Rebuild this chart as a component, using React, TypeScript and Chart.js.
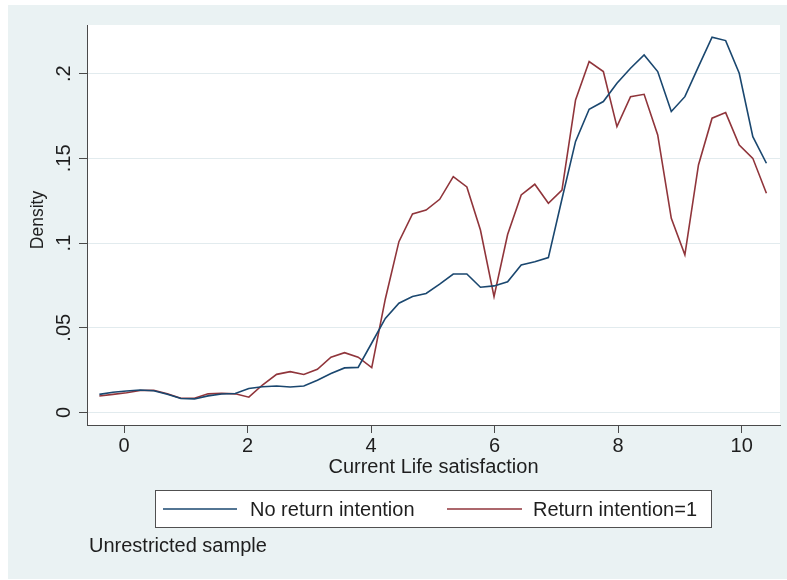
import React, { useEffect, useRef } from 'react';
import { Chart, registerables } from 'chart.js';

Chart.register(...registerables);

// Evaluation points of the density estimate (Current Life satisfaction)
const xPoints = [
  -0.4, -0.18, 0.04, 0.26, 0.48, 0.7, 0.92, 1.14, 1.36, 1.58,
  1.8, 2.02, 2.24, 2.47, 2.69, 2.91, 3.13, 3.35, 3.57, 3.79,
  4.01, 4.23, 4.45, 4.67, 4.89, 5.11, 5.33, 5.55, 5.77, 5.99,
  6.21, 6.43, 6.65, 6.87, 7.09, 7.31, 7.53, 7.76, 7.98, 8.2,
  8.42, 8.64, 8.86, 9.08, 9.3, 9.52, 9.74, 9.96, 10.18, 10.4,
];

// Density: No return intention
const noReturn = [
  0.0107, 0.0119, 0.0127, 0.0133, 0.0128, 0.0108, 0.0082, 0.008, 0.0098, 0.0109,
  0.0112, 0.0141, 0.0152, 0.0156, 0.015, 0.0156, 0.019, 0.023, 0.0263, 0.0266,
  0.041, 0.0555, 0.0645, 0.0684, 0.0702, 0.0758, 0.0817, 0.0817, 0.0739, 0.0747,
  0.0771, 0.0871, 0.089, 0.0914, 0.126, 0.16, 0.179, 0.1835, 0.1943, 0.2032,
  0.211, 0.2012, 0.1776, 0.1864, 0.2041, 0.2215, 0.2195, 0.2002, 0.1628, 0.1471,
];

// Density: Return intention = 1
const returnInt = [
  0.0097, 0.0107, 0.0116, 0.013, 0.0131, 0.011, 0.0084, 0.0084, 0.011, 0.0113,
  0.011, 0.009, 0.0162, 0.0225, 0.0241, 0.0224, 0.0255, 0.0326, 0.0353, 0.0326,
  0.0265, 0.067, 0.1008, 0.1172, 0.1195, 0.1258, 0.1392, 0.1331, 0.1077, 0.0684,
  0.105, 0.1284, 0.1347, 0.1235, 0.1313, 0.1845, 0.2071, 0.2012, 0.1687, 0.1864,
  0.1878, 0.1638, 0.1146, 0.093, 0.1461, 0.1737, 0.177, 0.1579, 0.15, 0.1294,
];

const seriesLabels = ['No return intention', 'Return intention=1'];
const xTickValues = [0, 2, 4, 6, 8, 10];
const yTickValues = [0, 0.05, 0.1, 0.15, 0.2];
const yTickLabels = ['0', '.05', '.1', '.15', '.2'];
const xTitle = 'Current Life satisfaction';
const yTitle = 'Density';
const noteText = 'Unrestricted sample';

const FONT = "'Liberation Sans', Arial, Helvetica, sans-serif";
const BG = '#eaf2f3';
const TEXT = '#1e1e1e';
const AXIS = '#4a4a4a';

const decorPlugin = {
  id: 'decor',
  beforeDraw(chart: any) {
    const { ctx, chartArea, width, height } = chart;
    ctx.save();
    ctx.fillStyle = BG;
    ctx.fillRect(0, 0, width, height);
    ctx.fillStyle = '#ffffff';
    ctx.fillRect(chartArea.left, chartArea.top, chartArea.right - chartArea.left, chartArea.bottom - chartArea.top);
    ctx.restore();
  },
  afterDraw(chart: any) {
    const { ctx } = chart;
    ctx.save();
    // y-axis title
    ctx.save();
    ctx.translate(30.5, 215);
    ctx.rotate(-Math.PI / 2);
    ctx.font = `17.5px ${FONT}`;
    ctx.fillStyle = TEXT;
    ctx.textAlign = 'center';
    ctx.textBaseline = 'middle';
    ctx.fillText(yTitle, 0, 0);
    ctx.restore();
    // legend box
    ctx.fillStyle = '#ffffff';
    ctx.fillRect(147.5, 485.5, 556, 37);
    ctx.strokeStyle = '#505050';
    ctx.lineWidth = 1;
    ctx.strokeRect(147.5, 485.5, 556, 37);
    const items = [
      { x1: 155, x2: 229, tx: 242 },
      { x1: 439, x2: 514, tx: 525 },
    ];
    ctx.font = `20px ${FONT}`;
    ctx.textBaseline = 'alphabetic';
    ctx.textAlign = 'left';
    chart.data.datasets.forEach((ds: any, i: number) => {
      const it = items[i];
      ctx.strokeStyle = ds.borderColor;
      ctx.lineWidth = 1.6;
      ctx.beginPath();
      ctx.moveTo(it.x1, 504);
      ctx.lineTo(it.x2, 504);
      ctx.stroke();
      ctx.fillStyle = TEXT;
      ctx.fillText(ds.label, it.tx, 511);
    });
    // note
    ctx.fillStyle = TEXT;
    ctx.fillText(noteText, 81, 547);
    ctx.restore();
  },
};

export default function App() {
  const ref = useRef<HTMLCanvasElement | null>(null);

  useEffect(() => {
    if (!ref.current) return;
    Chart.defaults.font.family = FONT;
    Chart.defaults.font.size = 20;
    Chart.defaults.color = TEXT;
    const chart = new Chart(ref.current, {
      type: 'line',
      data: {
        datasets: [
          {
            label: seriesLabels[0],
            data: xPoints.map((x, i) => ({ x, y: noReturn[i] })),
            borderColor: '#1a476f',
            borderWidth: 1.6,
            pointRadius: 0,
            tension: 0,
            fill: false,
          },
          {
            label: seriesLabels[1],
            data: xPoints.map((x, i) => ({ x, y: returnInt[i] })),
            borderColor: '#90353b',
            borderWidth: 1.6,
            pointRadius: 0,
            tension: 0,
            fill: false,
          },
        ],
      },
      options: {
        responsive: false,
        animation: false,
        devicePixelRatio: 1,
        layout: { padding: { left: 0, top: 20, right: 7, bottom: 100 } },
        plugins: {
          legend: { display: false },
          tooltip: { enabled: false },
        },
        scales: {
          x: {
            type: 'linear',
            min: -0.6,
            max: 10.62,
            afterBuildTicks: (s: any) => {
              s.ticks = xTickValues.map((v) => ({ value: v }));
            },
            afterFit: (s: any) => {
              s.height = 54;
            },
            ticks: {
              autoSkip: false,
              maxRotation: 0,
              minRotation: 0,
              padding: 1,
              color: TEXT,
              font: { size: 20, family: FONT },
              callback: (v: any) => String(v),
            },
            grid: {
              drawOnChartArea: false,
              drawTicks: true,
              tickLength: 8,
              tickColor: AXIS,
              color: AXIS,
            },
            border: { display: true, color: AXIS, width: 1 },
            title: {
              display: true,
              text: xTitle,
              color: TEXT,
              font: { size: 20, family: FONT },
              padding: { top: 0, bottom: 0 },
            },
          },
          y: {
            type: 'linear',
            min: -0.0074,
            max: 0.2287,
            afterBuildTicks: (s: any) => {
              s.ticks = yTickValues.map((v) => ({ value: v }));
            },
            afterFit: (s: any) => {
              s.width = 79;
            },
            ticks: {
              autoSkip: false,
              minRotation: 90,
              maxRotation: 90,
              crossAlign: 'center',
              padding: 1,
              color: TEXT,
              font: { size: 20, family: FONT },
              callback: (v: any) => {
                const idx = yTickValues.findIndex((t) => Math.abs(t - v) < 1e-9);
                return idx >= 0 ? yTickLabels[idx] : '';
              },
            },
            grid: {
              drawOnChartArea: true,
              drawTicks: true,
              tickLength: 8,
              tickColor: AXIS,
              color: '#e2ebee',
              lineWidth: 1,
            },
            border: { display: true, color: AXIS, width: 1 },
            title: { display: false },
          },
        },
      },
      plugins: [decorPlugin],
    } as any);
    return () => chart.destroy();
  }, []);

  return (
    <div style={{ position: 'absolute', left: 8, top: 5, width: 779, height: 574 }}>
      <canvas ref={ref} width={779} height={574} style={{ width: 779, height: 574, display: 'block' }} />
    </div>
  );
}
